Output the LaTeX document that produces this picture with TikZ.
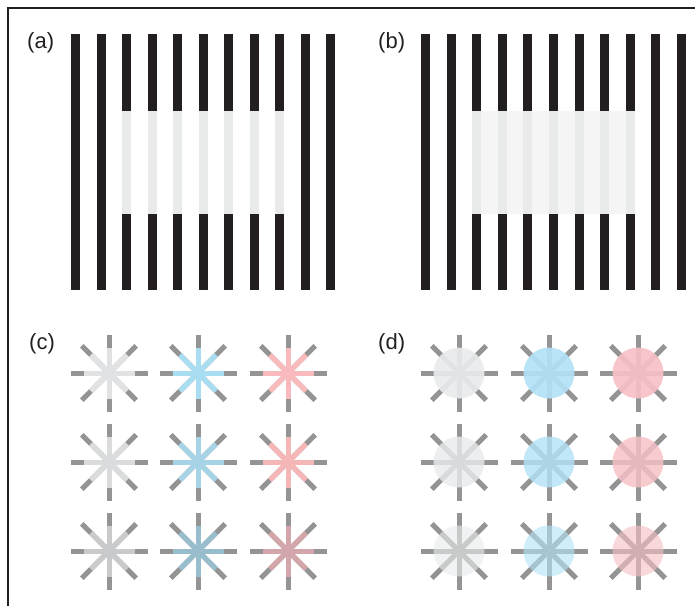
\documentclass[tikz,border=0pt]{standalone}
\usepackage{fontspec}
\setmainfont{Liberation Sans}
\definecolor{ink}{HTML}{231F20}
\definecolor{palebar}{HTML}{E9EAEA}
\definecolor{palebg}{HTML}{F5F5F5}
\definecolor{tipgray}{HTML}{949494}
\definecolor{cg1}{HTML}{E1E2E3}
\definecolor{cb1}{HTML}{A9DEF2}
\definecolor{cp1}{HTML}{F8BABC}
\definecolor{cg2}{HTML}{DADBDC}
\definecolor{cb2}{HTML}{A6D3E5}
\definecolor{cp2}{HTML}{F5B6B8}
\definecolor{cg3}{HTML}{C9CACC}
\definecolor{cb3}{HTML}{98BECD}
\definecolor{cp3}{HTML}{D3A6AB}
\definecolor{dg}{HTML}{E9EAEB}
\definecolor{db}{HTML}{B3E2F7}
\definecolor{dp}{HTML}{F6C0C5}
\tikzset{
  lab/.style={anchor=west, inner sep=0pt, text=ink, font=\fontsize{22}{26}\selectfont},
  armtip/.style={draw=tipgray, line width=5pt},
  armin/.style={line width=5pt},
  frameline/.style={draw=ink, line width=2pt}
}
\begin{document}
\begin{tikzpicture}[x=1pt,y=-1pt]
\useasboundingbox (0,0) rectangle (695,606);
% frame
\draw[frameline] (8,606) -- (8,8) -- (695,8);
% labels
\node[lab] (la) at (27,42.5) {(a)};
\node[lab] (lb) at (378,42.5) {(b)};
\node[lab] (lc) at (29,343.5) {(c)};
\node[lab] (ld) at (378,343.5) {(d)};
% panel (a)
\foreach \i in {0,...,10} \fill[ink] ({71+25.5*\i},34) rectangle ++(9,256);
\foreach \i in {2,...,8} \fill[palebar] ({71+25.5*\i},111) rectangle ++(9,103);
% panel (b)
\foreach \i in {0,...,10} \fill[ink] ({421+25.6*\i},34) rectangle ++(9,256);
\fill[palebg] (472,111) rectangle (635,214);
\foreach \i in {2,...,8} \fill[palebar] ({421+25.6*\i},111) rectangle ++(9,103);
% panel (c)
\foreach \cy/\r in {373/1,462/2,551/3} {
  \foreach \cx/\c in {109/g,198/b,288/p} {
    \foreach \a in {0,45,...,315} \draw[armtip] (\cx,\cy) -- ++(\a:38.5);
    \foreach \a in {0,45,...,315} \draw[armin, draw=c\c\r] (\cx,\cy) -- ++(\a:25.5);
  }
}
% panel (d)
\foreach \cy/\op in {373/0.92,462/0.82,551/0.62} {
  \foreach \cx/\c in {459/g,549/b,638/p} {
    \foreach \a in {0,45,...,315} \draw[armtip] (\cx,\cy) -- ++(\a:38.5);
    \fill[fill=d\c, fill opacity=\op] (\cx,\cy) circle (25.5);
  }
}
\end{tikzpicture}
\end{document}
